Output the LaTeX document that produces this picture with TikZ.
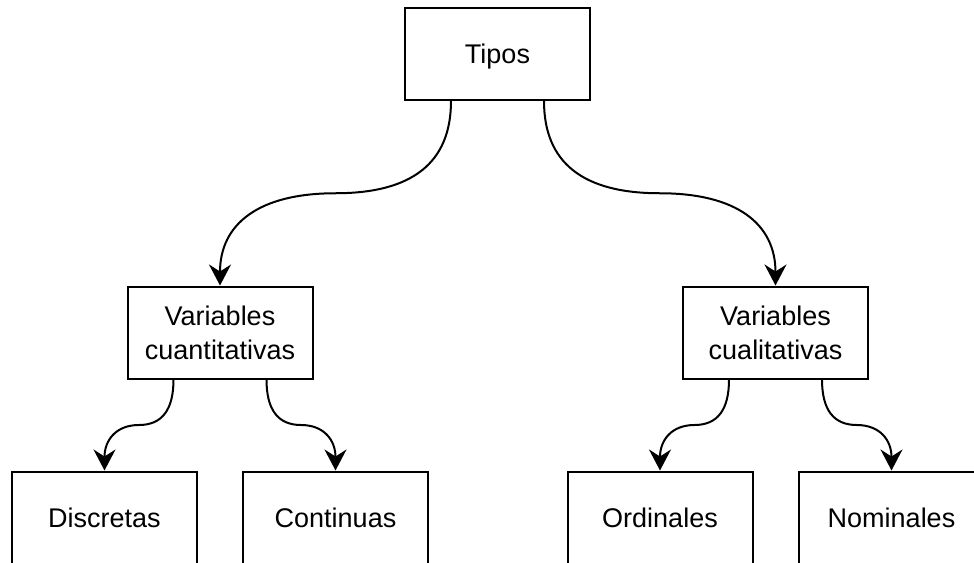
\documentclass[tikz,border=0pt]{standalone}
\usepackage{fontspec}
\setmainfont{Liberation Sans}
\usetikzlibrary{arrows.meta,calc}

\tikzset{
  box/.style={draw, line width=2pt, minimum width=185pt, minimum height=92pt,
    inner sep=0pt, align=center, font=\fontsize{27}{34}\selectfont},
  link/.style={line width=2pt, -{Stealth[length=21pt,width=22pt,inset=7pt]}},
}

% orthogonal-style curved connector: down, across at mid-height, down
\newcommand\curvelink[2]{%
  \draw[link] let \p1=(#1), \p2=(#2) in
    (\p1) .. controls (\x1,{\y1+(\y2-\y1)/3})
             and ({(\x1+\x2)/2+(\x1-\x2)/3},{(\y1+\y2)/2})
          .. ({(\x1+\x2)/2},{(\y1+\y2)/2})
          .. controls ({(\x1+\x2)/2+(\x2-\x1)/3},{(\y1+\y2)/2})
             and (\x2,{\y2-(\y2-\y1)/3})
          .. (\p2);}

\begin{document}
\begin{tikzpicture}[x=1pt,y=-1pt]
  \useasboundingbox (0,0) rectangle (974,562);

  \node[box, text depth=0pt] (tipos) at (497.5,54) {Tipos};
  \node[box] (cuant) at (220,332.5) {Variables\\cuantitativas};
  \node[box] (cual)  at (775.5,332.5) {Variables\\cualitativas};
  \node[box] (disc)  at (104.5,517.5) {Discretas};
  \node[box] (cont)  at (335.5,517.5) {Continuas};
  \node[box] (ord)   at (660,517.5) {Ordinales};
  \node[box] (nom)   at (891.5,517.5) {Nominales};

  \curvelink{[xshift=-46.5pt]tipos.south}{cuant.north}
  \curvelink{[xshift=46.5pt]tipos.south}{cual.north}
  \curvelink{[xshift=-46.5pt]cuant.south}{disc.north}
  \curvelink{[xshift=46.5pt]cuant.south}{cont.north}
  \curvelink{[xshift=-46.5pt]cual.south}{ord.north}
  \curvelink{[xshift=46.5pt]cual.south}{nom.north}
\end{tikzpicture}
\end{document}
